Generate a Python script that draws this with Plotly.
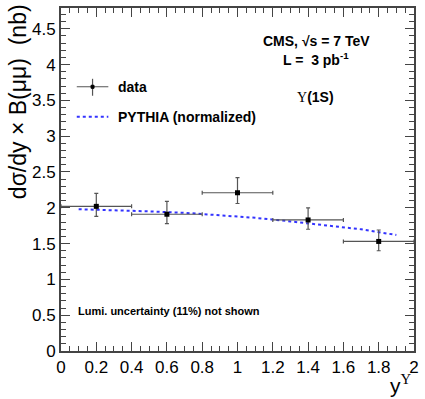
import plotly.graph_objects as go

# data points
y_bins = [0.2, 0.6, 1.0, 1.4, 1.8]
x_halfwidth = [0.2, 0.2, 0.2, 0.2, 0.2]
xsec = [2.02, 1.91, 2.21, 1.83, 1.53]
err_up = [0.18, 0.18, 0.21, 0.17, 0.16]
err_down = [0.14, 0.13, 0.15, 0.13, 0.13]

# PYTHIA (normalized)
pythia_y = [0.1, 0.3, 0.5, 0.7, 0.9, 1.1, 1.3, 1.5, 1.7, 1.9]
pythia_val = [1.98, 1.97, 1.95, 1.93, 1.90, 1.86, 1.81, 1.76, 1.70, 1.62]

FONT = "Liberation Sans, Arial, Helvetica, sans-serif"
SERIF = "Liberation Serif, Times New Roman, serif"
ERRC = "#555555"

fig = go.Figure()
fig.add_trace(go.Scatter(
    x=pythia_y, y=pythia_val, mode="lines",
    line=dict(color="#3333ff", width=2, dash="dot"), showlegend=False,
))
fig.add_trace(go.Scatter(
    x=y_bins, y=xsec, mode="markers",
    marker=dict(color="black", size=5, symbol="square"),
    error_x=dict(type="data", array=x_halfwidth, color=ERRC, thickness=1.2, width=2),
    error_y=dict(type="data", array=err_up, arrayminus=err_down, color=ERRC, thickness=1.2, width=2),
    showlegend=False,
))

axis_common = dict(
    showgrid=False, zeroline=False, showline=True, linecolor="#444", linewidth=2,
    mirror="ticks", ticks="inside", tickcolor="#444", tickwidth=1,
    tickfont=dict(family=FONT, size=17, color="black"),
)
fig.update_xaxes(range=[0, 2], dtick=0.2, ticklen=9,
                 minor=dict(dtick=0.05, ticks="inside", ticklen=5, tickcolor="#444"),
                 tickformat="~g", **axis_common)
fig.update_yaxes(range=[0, 4.79], dtick=0.5, ticklen=9,
                 minor=dict(dtick=0.1, ticks="inside", ticklen=5, tickcolor="#444"),
                 tickformat="~g", **axis_common)

def px2x(px):
    return (px - 61) / 358

def px2y(py):
    return (351 - py) / 344

def note(text, px, py, size, xa="center", ya="middle", **kw):
    return dict(text=text, xref="paper", yref="paper", x=px2x(px), y=px2y(py),
                xanchor=xa, yanchor=ya, showarrow=False,
                font=dict(family=FONT, size=size, color="black"), **kw)

ann = [
    note("dσ/dy × B(μμ)  (nb)", 17, 1, 23, ya="top", textangle=-90),
    note("y<sup><span style='font-family:Liberation Serif'>Υ</span></sup>", 419, 399, 21,
         xa="right", ya="bottom"),
    note("<b>CMS, √s = 7 TeV</b>", 320, 40, 14),
    note("<b>L =  3 pb<sup>-1</sup></b>", 320, 58, 14),
    note("<span style='font-family:Liberation Serif'>Υ</span><b>(1S)</b>", 319, 96, 14),
    note("<b>Lumi. uncertainty (11%) not shown</b>", 76, 311, 11, xa="left"),
    note("<b>data</b>", 117, 86, 14, xa="left"),
    note("<b>PYTHIA (normalized)</b>", 117, 116, 14, xa="left"),
]

shapes = [
    dict(type="line", xref="paper", yref="paper", x0=px2x(77), x1=px2x(109),
         y0=px2y(86), y1=px2y(86), line=dict(color=ERRC, width=1.2)),
    dict(type="line", xref="paper", yref="paper", x0=px2x(93), x1=px2x(93),
         y0=px2y(78), y1=px2y(95), line=dict(color=ERRC, width=1.2)),
    dict(type="rect", xref="paper", yref="paper", x0=px2x(91.5), x1=px2x(94.5),
         y0=px2y(84.5), y1=px2y(87.5), line=dict(color="black", width=1), fillcolor="black"),
    dict(type="line", xref="paper", yref="paper", x0=px2x(77), x1=px2x(109),
         y0=px2y(116), y1=px2y(116), line=dict(color="#3333ff", width=2, dash="dot")),
]

fig.update_layout(
    width=425, height=399, autosize=False,
    margin=dict(l=61, r=6, t=7, b=48),
    paper_bgcolor="white", plot_bgcolor="white",
    annotations=ann, shapes=shapes, showlegend=False,
)

fig.write_html("out.html")
